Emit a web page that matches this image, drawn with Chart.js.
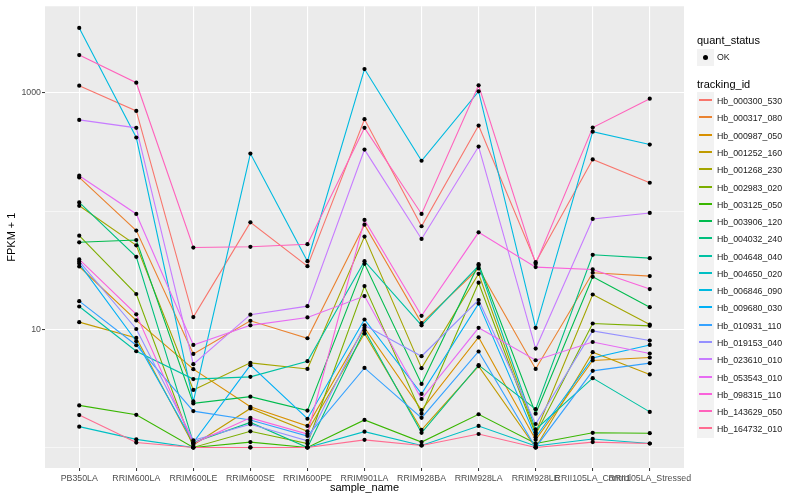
<!DOCTYPE html>
<html>
<head>
<meta charset="utf-8">
<script src="https://cdn.jsdelivr.net/npm/chart.js@4.4.1/dist/chart.umd.min.js"></script>
<style>
  body { margin: 0; background: #fff; font-family: "Liberation Sans", Arial, sans-serif; }
  #wrap { position: relative; width: 800px; height: 500px; }
  #legend { position: absolute; left: 0; top: 0; width: 800px; height: 500px; pointer-events: none; }
  .ttl { position: absolute; left: 697px; font-size: 11px; color: #000; line-height: 12px; }
  .key { position: absolute; left: 697px; width: 17px; height: 17px; background: #F2F2F2; }
  .key i { position: absolute; left: 2px; width: 13px; top: 7px; height: 2px; }
  .key b { position: absolute; left: 6px; top: 6px; width: 5px; height: 5px; border-radius: 50%; background: #000; }
  .lab { position: absolute; left: 717px; font-size: 8.8px; color: #1a1a1a; line-height: 10px; }
</style>
</head>
<body>
<div id="wrap">
  <canvas id="chart" width="800" height="500"></canvas>
  <div id="legend"></div>
</div>
<script>
var samples = ['PB350LA', 'RRIM600LA', 'RRIM600LE', 'RRIM600SE', 'RRIM600PE', 'RRIM901LA',
  'RRIM928BA', 'RRIM928LA', 'RRIM928LE', 'RRII105LA_Control', 'RRII105LA_Stressed'];

var trackingIds = ['Hb_000300_530', 'Hb_000317_080', 'Hb_000987_050', 'Hb_001252_160', 'Hb_001268_230',
  'Hb_002983_020', 'Hb_003125_050', 'Hb_003906_120', 'Hb_004032_240', 'Hb_004648_040',
  'Hb_004650_020', 'Hb_006846_090', 'Hb_009680_030', 'Hb_010931_110', 'Hb_019153_040',
  'Hb_023610_010', 'Hb_053543_010', 'Hb_098315_110', 'Hb_143629_050', 'Hb_164732_010'];

var colours = ['#F8766D', '#EA8331', '#D89000', '#C09B00', '#A3A500', '#7CAE00', '#39B600', '#00BB4E',
  '#00BF7D', '#00C1A3', '#00BFC4', '#00BAE0', '#00B0F6', '#35A2FF', '#9590FF', '#C77CFF',
  '#E76BF3', '#FA62DB', '#FF62BC', '#FF6C91'];

// FPKM + 1, one value per sample
var hb_000300_530 = [1153, 705, 12.7, 80.4, 34.2, 600, 74.5, 530, 37.0, 274, 174];
var hb_000317_080 = [193, 68.5, 6.19, 11.8, 8.40, 76.9, 11.3, 32.7, 4.62, 30.1, 28.2];
var hb_000987_050 = [34, 11.9, 4.60, 2.21, 1.52, 10.3, 2.07, 8.56, 1.16, 5.45, 5.77];
var hb_001252_160 = [11.5, 8.45, 1.05, 2.14, 1.37, 9.2, 1.41, 4.88, 1.0, 6.40, 4.15];
var hb_001268_230 = [111, 51.4, 3.07, 5.20, 4.62, 60.9, 4.69, 29.5, 1.34, 19.7, 10.96];
var hb_002983_020 = [62, 19.9, 1.0, 1.37, 1.08, 23.2, 1.93, 24.8, 1.29, 11.2, 10.7];
var hb_003125_050 = [2.27, 1.89, 1.0, 1.11, 1.0, 1.71, 1.11, 1.91, 1.08, 1.33, 1.32];
var hb_003906_120 = [54.5, 57, 2.36, 2.69, 2.05, 35.8, 3.45, 35.6, 1.93, 27.8, 15.4];
var hb_004032_240 = [118.6, 41.1, 1.1, 1.63, 1.0, 9.81, 1.33, 4.97, 2.11, 42.7, 40];
var hb_004648_040 = [15.6, 6.52, 3.79, 3.96, 5.37, 37.7, 10.8, 34.5, 1.42, 3.86, 2.00];
var hb_004650_020 = [1.5, 1.17, 1.0, 1.0, 1.0, 1.36, 1.04, 1.52, 1.03, 1.18, 1.08];
var hb_006846_090 = [3556, 420, 2.45, 307, 37.7, 1594, 267, 1033, 10.3, 471, 366];
var hb_009680_030 = [36, 7.92, 1.1, 4.97, 1.75, 12.1, 2.84, 16.5, 1.22, 5.73, 7.37];
var hb_010931_110 = [17.3, 7.33, 2.03, 1.71, 1.25, 4.71, 1.78, 6.49, 1.0, 4.45, 5.17];
var hb_019153_040 = [37.5, 10.06, 1.15, 1.57, 1.14, 10.8, 5.92, 17.7, 1.58, 9.68, 8.03];
var hb_023610_010 = [592, 507, 5.07, 13.3, 15.7, 332, 58.2, 352, 6.87, 85.9, 96.6];
var hb_053543_010 = [199.5, 94.7, 7.37, 10.8, 12.6, 19.1, 2.57, 10.3, 5.47, 7.81, 6.24];
var hb_098315_110 = [39, 13.4, 1.08, 1.78, 1.30, 84.3, 13.0, 66.2, 33.6, 32.1, 21.9];
var hb_143629_050 = [2094, 1222, 49.2, 49.9, 52.5, 507, 94.7, 1161, 35.8, 510, 895];
var hb_164732_010 = [1.88, 1.10, 1.0, 1.0, 1.0, 1.16, 1.04, 1.30, 1.0, 1.11, 1.08];

var seriesValues = [hb_000300_530, hb_000317_080, hb_000987_050, hb_001252_160, hb_001268_230,
  hb_002983_020, hb_003125_050, hb_003906_120, hb_004032_240, hb_004648_040,
  hb_004650_020, hb_006846_090, hb_009680_030, hb_010931_110, hb_019153_040,
  hb_023610_010, hb_053543_010, hb_098315_110, hb_143629_050, hb_164732_010];

var yMajorTicks = [10, 1000];
var yMinorTicks = [1, 100];

// panel background like ggplot
var panelBg = {
  id: 'panelBg',
  beforeDraw: function (chart) {
    var a = chart.chartArea, c = chart.ctx;
    c.save();
    c.fillStyle = '#EBEBEB';
    c.fillRect(a.left, a.top, a.right - a.left, a.bottom - a.top);
    c.restore();
  }
};

var n = seriesValues.length;
var datasets = seriesValues.map(function (vals, k) {
  return {
    type: 'line',
    label: trackingIds[k],
    data: vals.map(function (v, i) { return { x: i, y: v }; }),
    borderColor: colours[k],
    borderWidth: 1.1,
    pointRadius: 0,
    tension: 0,
    fill: false,
    order: n - k + 1
  };
});

var allPoints = [];
seriesValues.forEach(function (vals) {
  vals.forEach(function (v, i) { allPoints.push({ x: i, y: v }); });
});
datasets.push({
  type: 'scatter',
  label: 'OK',
  data: allPoints,
  showLine: false,
  pointRadius: 2.1,
  pointBackgroundColor: '#000',
  pointBorderWidth: 0,
  order: 0
});

var tickFont = { family: '"Liberation Sans", Arial, sans-serif', size: 8.8 };
var titleFont = { family: '"Liberation Sans", Arial, sans-serif', size: 11 };

new Chart(document.getElementById('chart'), {
  type: 'line',
  data: { datasets: datasets },
  plugins: [panelBg],
  options: {
    responsive: false,
    animation: false,
    layout: { padding: { left: 0, right: 116, top: 5, bottom: 0 } },
    plugins: { legend: { display: false }, tooltip: { enabled: false } },
    scales: {
      x: {
        type: 'linear',
        min: -0.6,
        max: 10.6,
        afterBuildTicks: function (scale) {
          scale.ticks = samples.map(function (s, i) { return { value: i }; });
        },
        afterFit: function (scale) { scale.height = 32; },
        ticks: {
          autoSkip: false,
          maxRotation: 0,
          padding: 2,
          color: '#4D4D4D',
          font: tickFont,
          callback: function (v) { return samples[v]; }
        },
        grid: { color: '#FFFFFF', lineWidth: 1.1, tickColor: '#333333', tickLength: 3, tickWidth: 1 },
        border: { display: false },
        title: { display: true, text: 'sample_name', color: '#000', font: titleFont, padding: { top: 0, bottom: 5 } }
      },
      y: {
        type: 'logarithmic',
        min: 0.67,
        max: 5420,
        afterBuildTicks: function (scale) {
          scale.ticks = yMinorTicks.concat(yMajorTicks).sort(function (a, b) { return a - b; })
            .map(function (v) { return { value: v }; });
        },
        afterFit: function (scale) { scale.width = 45; },
        ticks: {
          padding: 1,
          color: '#4D4D4D',
          font: tickFont,
          callback: function (v) { return yMajorTicks.indexOf(v) >= 0 ? String(v) : ''; }
        },
        grid: {
          color: '#FFFFFF',
          lineWidth: function (ctx) { return yMajorTicks.indexOf(ctx.tick.value) >= 0 ? 1.1 : 0.55; },
          tickColor: function (ctx) { return yMajorTicks.indexOf(ctx.tick.value) >= 0 ? '#333333' : 'rgba(0,0,0,0)'; },
          tickLength: 3,
          tickWidth: 1
        },
        border: { display: false },
        title: { display: true, text: 'FPKM + 1', color: '#000', font: titleFont, padding: { top: 5, bottom: 0 } }
      }
    }
  }
});

// legend, ggplot style
var lg = document.getElementById('legend');
var html = '';
html += '<div class="ttl" style="top:34px">quant_status</div>';
html += '<div class="key" style="top:49px"><b></b></div>';
html += '<div class="lab" style="top:52px">OK</div>';
html += '<div class="ttl" style="top:78px">tracking_id</div>';
var rowH = 17.28, firstTop = 92.1;
trackingIds.forEach(function (id, k) {
  var t = Math.round(firstTop + k * rowH);
  var tNext = Math.round(firstTop + (k + 1) * rowH);
  html += '<div class="key" style="top:' + t + 'px;height:' + (tNext - t) + 'px"><i style="background:' + colours[k] + '"></i></div>';
  html += '<div class="lab" style="top:' + (t + 4) + 'px">' + id + '</div>';
});
lg.innerHTML = html;
</script>
</body>
</html>
